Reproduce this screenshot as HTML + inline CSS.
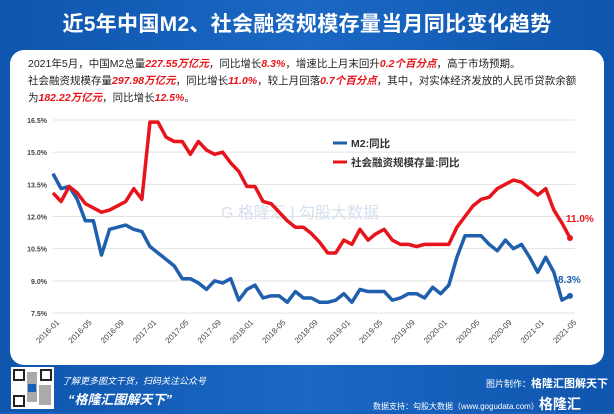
<!DOCTYPE html>
<html><head><meta charset="utf-8">
<style>
body{margin:0;width:614px;height:412px;overflow:hidden;background:#1661bb;font-family:"Liberation Sans","Noto Sans CJK SC",sans-serif;}
#wrap{position:relative;width:614px;height:412px;background:linear-gradient(90deg,#0f55ad,#1a68c4 50%,#0f55ad);}
#title{position:absolute;left:0;top:8px;width:614px;text-align:center;color:#fff;font-size:21px;font-weight:bold;letter-spacing:0.3px;}
#card{position:absolute;left:10px;top:50px;width:594px;height:315px;background:#fff;border-radius:14px;}
.t{position:absolute;left:18px;font-size:10.5px;color:#222;white-space:nowrap;}
.t b{color:#e8141b;font-style:italic;}
#foot1{position:absolute;left:62px;top:374px;color:#fff;font-size:9px;font-style:italic;white-space:nowrap;}
#foot2{position:absolute;left:68px;top:389px;color:#fff;font-size:13px;font-weight:bold;font-style:italic;white-space:nowrap;}
#foot3{position:absolute;left:486px;top:375px;color:#fff;font-size:9px;white-space:nowrap;}
#foot4{position:absolute;left:373px;top:394px;color:#fff;font-size:8px;white-space:nowrap;}
#qr{position:absolute;left:11px;top:367px;width:43px;height:42px;background:#fff;}
</style></head><body>
<div id="wrap">
<div id="title">近5年中国M2、社会融资规模存量当月同比变化趋势</div>
<div id="card">
<div class="t" style="top:6px">2021年5月，中国M2总量<b>227.55万亿元</b>，同比增长<b>8.3%</b>，增速比上月末回升<b>0.2个百分点</b>，高于市场预期。</div>
<div class="t" style="top:23px">社会融资规模存量<b>297.98万亿元</b>，同比增长<b>11.0%</b>，较上月回落<b>0.7个百分点</b>，其中，对实体经济发放的人民币贷款余额</div>
<div class="t" style="top:40px">为<b>182.22万亿元</b>，同比增长<b>12.5%</b>。</div>
</div>
<svg id="chart" width="614" height="412" style="position:absolute;left:0;top:0"></svg>
<div id="qr"><svg width="43" height="42"><rect x="3" y="3" width="10" height="10" fill="none" stroke="#222" stroke-width="2"/><rect x="30" y="3" width="10" height="10" fill="none" stroke="#222" stroke-width="2"/><rect x="3" y="29" width="10" height="10" fill="none" stroke="#222" stroke-width="2"/><rect x="16" y="5" width="10" height="30" fill="#555" opacity="0.5"/><rect x="28" y="18" width="12" height="20" fill="#555" opacity="0.5"/><rect x="17" y="17" width="8" height="8" fill="#1661bb"/></svg></div>
<div id="foot1">了解更多图文干货，扫码关注公众号</div>
<div id="foot2">“格隆汇图解天下”</div>
<div id="foot3">图片制作：<b style="font-size:11px">格隆汇图解天下</b></div>
<div id="foot4">数据支持：勾股大数据（www.gogudata.com）<b style="font-size:14px">格隆汇</b></div>
</div>
<script>
const yTicks=[7.5,9.0,10.5,12.0,13.5,15.0,16.5];
const m2=[14.0,13.3,13.4,12.8,11.8,11.8,10.2,11.4,11.5,11.6,11.4,11.3,
10.6,10.3,10.0,9.7,9.1,9.1,8.9,8.6,9.0,8.9,9.1,8.1,
8.6,8.8,8.2,8.3,8.3,8.0,8.5,8.2,8.2,8.0,8.0,8.1,
8.4,8.0,8.6,8.5,8.5,8.5,8.1,8.2,8.4,8.4,8.2,8.7,
8.4,8.8,10.1,11.1,11.1,11.1,10.7,10.4,10.9,10.5,10.7,10.1,
9.4,10.1,9.4,8.1,8.3];
const tsf=[13.1,12.7,13.4,13.1,12.6,12.4,12.2,12.3,12.5,12.7,13.3,12.8,
16.4,16.4,15.7,15.5,15.5,14.9,15.5,15.1,14.9,15.0,14.5,14.1,
13.4,13.4,12.7,12.6,12.2,11.8,11.5,11.5,11.2,10.8,10.3,10.3,
10.9,10.7,11.4,10.9,11.2,11.4,10.9,10.7,10.7,10.6,10.7,10.7,
10.7,10.7,11.5,12.0,12.5,12.8,12.9,13.3,13.5,13.7,13.6,13.3,
13.0,13.3,12.3,11.7,11.0];
const startYear=2016;
const svg=document.getElementById('chart');
const NS='http://www.w3.org/2000/svg';
const x0=53,x1=570,yTop=120,yBot=313;
const xs=i=>x0+(x1-x0)*i/(m2.length-1);
const ys=v=>yBot-(v-7.5)/(16.5-7.5)*(yBot-yTop);
function mk(t,a){const e=document.createElementNS(NS,t);for(const k in a)e.setAttribute(k,a[k]);svg.appendChild(e);return e;}
yTicks.forEach(v=>{
 const l=mk('line',{x1:x0,x2:575,y1:ys(v),y2:ys(v),stroke:'#e2e2e2','stroke-width':1});
 
 
 const t=mk('text',{x:47,y:ys(v)+3,'text-anchor':'end','font-size':7,fill:'#444','font-weight':'bold'});
 t.textContent=v.toFixed(1)+'%';
 
 
});
for(let i=0;i<m2.length;i+=4){
 const yr=startYear+Math.floor(i/12),mo=i%12+1;
 const x=xs(i);
 const t=mk('text',{x:x+3,y:319,'text-anchor':'end','font-size':8,fill:'#444',transform:`rotate(-45 ${x+3} 319)`});
 t.setAttribute('dy','0.7em');
 t.textContent=yr+'-'+String(mo).padStart(2,'0');
 
 
}
const wm=mk('text',{x:300,y:218,'font-size':16,fill:'#d5e0ee','text-anchor':'middle'});
wm.textContent='G 格隆汇 | 勾股大数据';


function series(arr,color,name){
 const p=mk('polyline',{points:arr.map((v,i)=>xs(i)+','+ys(v)).join(' '),fill:'none',stroke:color,'stroke-width':3.5,'stroke-linejoin':'round'});
 
 
 const n=arr.length-1;
 const c=mk('circle',{cx:xs(n),cy:ys(arr[n]),r:3,fill:color});
 
 
 return [xs(n),ys(arr[n])];
}
const pb=series(m2,'#1f5fae','m2-line');
const pr=series(tsf,'#e8141b','tsf-line');
const lb=mk('text',{x:pb[0]-12,y:pb[1]-13,'font-size':10,'font-weight':'bold',fill:'#1f5fae'});
lb.textContent=m2[m2.length-1].toFixed(1)+'%';


const lr=mk('text',{x:pr[0]-4,y:pr[1]-16,'font-size':10,'font-weight':'bold',fill:'#e8141b'});
lr.textContent=tsf[tsf.length-1].toFixed(1)+'%';


[['M2:同比','#1f5fae',143],['社会融资规模存量:同比','#e8141b',162]].forEach(([t,c,y])=>{
 const l=mk('line',{x1:333,x2:347,y1:y,y2:y,stroke:c,'stroke-width':3});
 
 
 const tx=mk('text',{x:351,y:y+4,'font-size':10.5,'font-weight':'bold',fill:'#333'});
 tx.textContent=t;
 
 
});
</script>
</body></html>
